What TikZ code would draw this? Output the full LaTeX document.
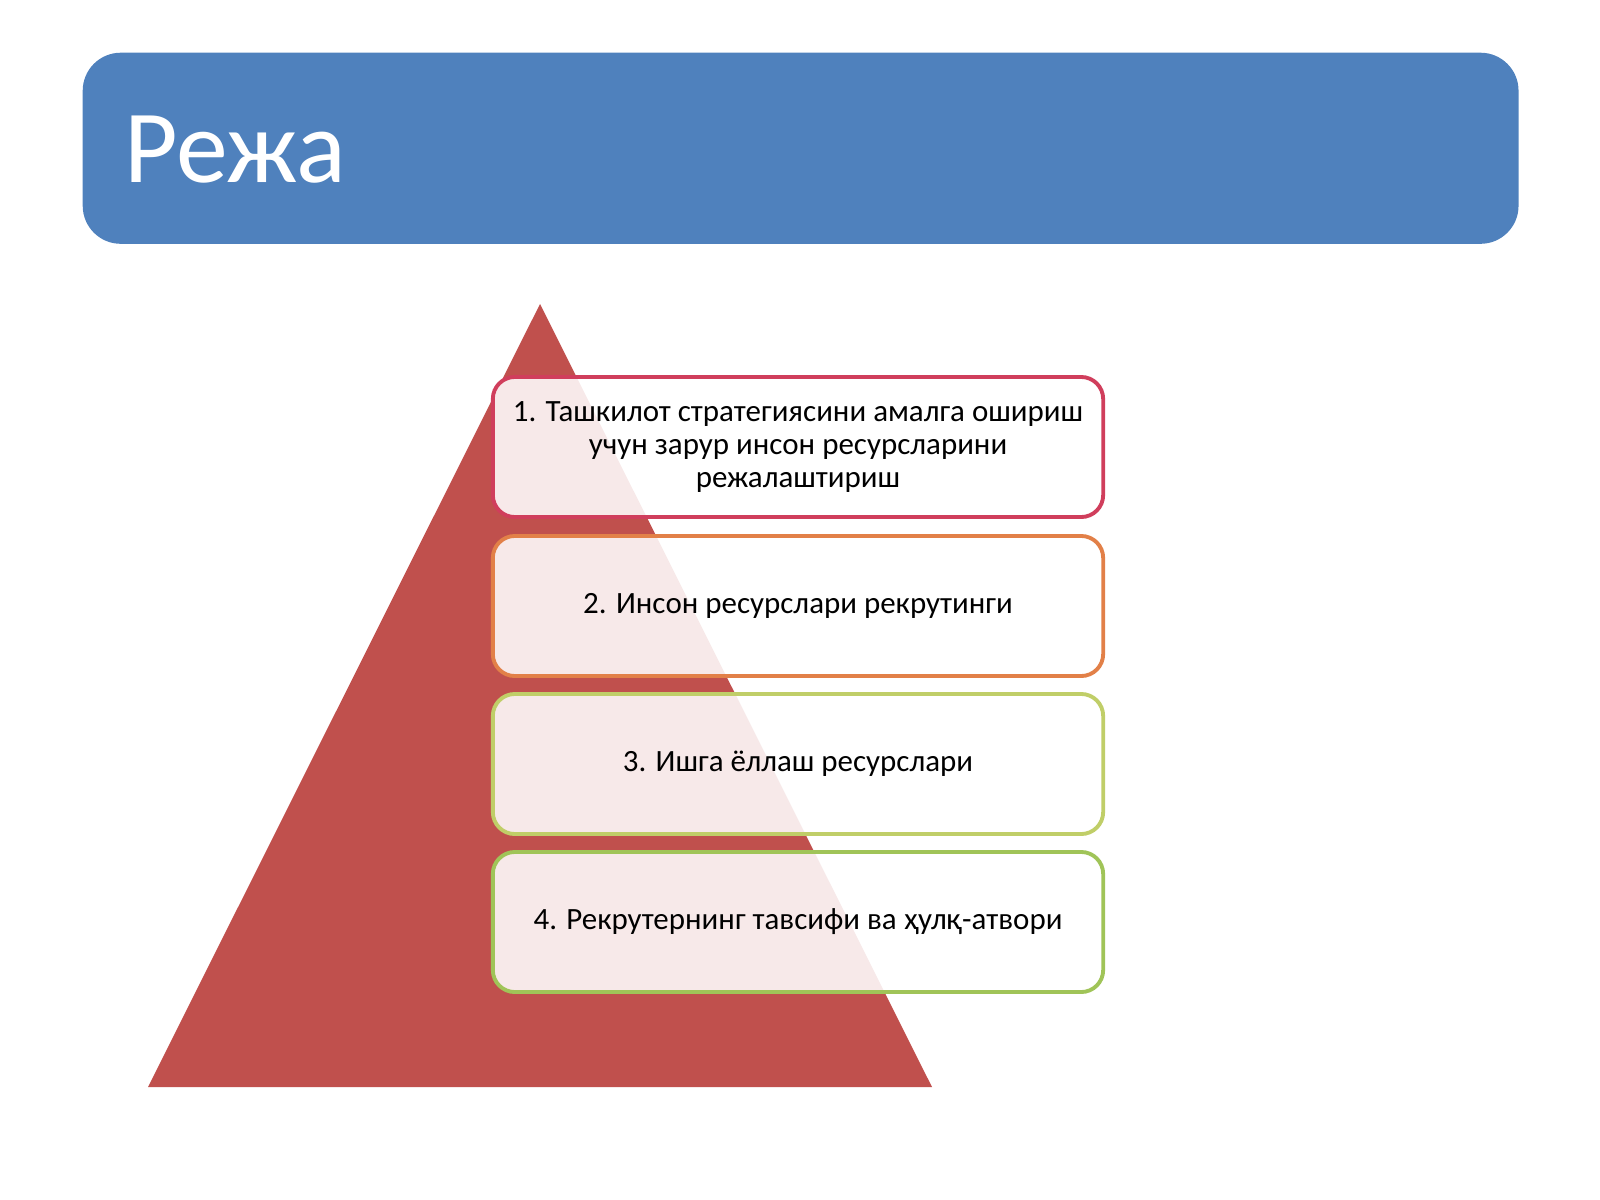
\documentclass[tikz,border=0pt]{standalone}
\usepackage{fontspec}
\setmainfont{Carlito}
\definecolor{plblue}{RGB}{79,129,189}
\definecolor{plred}{RGB}{192,80,77}
\definecolor{plcrimson}{RGB}{208,62,92}
\definecolor{plorange}{RGB}{226,128,72}
\definecolor{plolive}{RGB}{192,206,104}
\definecolor{plgreen}{RGB}{160,196,88}
\tikzset{
  stagebox/.style={draw, line width=1.1pt, rounded corners=0.22cm, fill=white,
    fill opacity=0.88, text opacity=1, minimum width=6.1cm, minimum height=1.4cm,
    align=center, font=\fontsize{8.8pt}{9.5pt}\selectfont}
}
\begin{document}
\begin{tikzpicture}[x=0.01cm, y=-0.01cm]
\useasboundingbox (0,0) rectangle (1600,1200);
% Title bar
\node[fill=plblue, rounded corners=0.38cm, minimum width=14.35cm, minimum height=1.91cm,
  anchor=north west] (bar) at (82,52) {};
\node[text=white, anchor=base west, font=\fontsize{29.5pt}{34pt}\selectfont] (title) at (112,182) {Режа};

% Pyramid
\coordinate (apex) at (540,304);
\coordinate (bl) at (148,1087);
\coordinate (br) at (932,1087);
\fill[plred] (apex) -- (br) -- (bl) -- cycle;

% Stages
\node[stagebox, draw=plcrimson] (s1) at (798,447) {1. Ташкилот стратегиясини амалга ошириш\\учун зарур инсон ресурсларини\\режалаштириш};
\node[stagebox, draw=plorange] (s2) at (798,606) {2. Инсон ресурслари рекрутинги};
\node[stagebox, draw=plolive] (s3) at (798,764) {3. Ишга ёллаш ресурслари};
\node[stagebox, draw=plgreen] (s4) at (798,922) {4. Рекрутернинг тавсифи ва ҳулқ-атвори};
\end{tikzpicture}
\end{document}
